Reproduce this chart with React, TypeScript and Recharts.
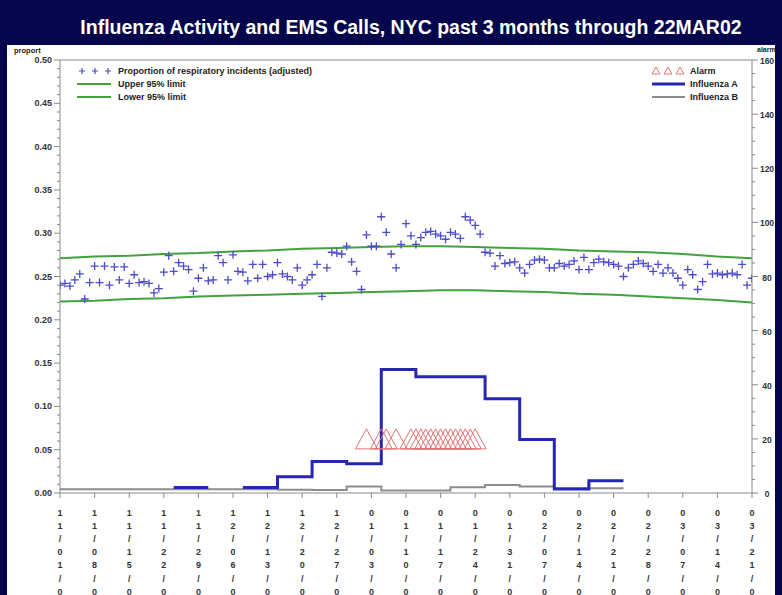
import React from 'react';
import { ComposedChart, Line, Scatter, XAxis, YAxis, ReferenceLine } from 'recharts';

// weekly x ticks (days since 11/01/01) and their labels
const tickDays = [0, 7, 14, 21, 28, 35, 42, 49, 56, 63, 70, 77, 84, 91, 98, 105, 112, 119, 126, 133, 140];
const tickDates = [
  '11/01/01', '11/08/01', '11/15/01', '11/22/01', '11/29/01', '12/06/01', '12/13/01',
  '12/20/01', '12/27/01', '01/03/02', '01/10/02', '01/17/02', '01/24/02', '01/31/02',
  '02/07/02', '02/14/02', '02/21/02', '02/28/02', '03/07/02', '03/14/02', '03/21/02',
];

const leftLabels = ['0.00', '0.05', '0.10', '0.15', '0.20', '0.25', '0.30', '0.35', '0.40', '0.45', '0.50'];
const rightLabels = ['0', '20', '40', '60', '80', '100', '120', '140', '160'];

// daily proportion of respiratory incidents (adjusted), day 0..140
const proportion = [
  0.240, 0.242, 0.239, 0.246, 0.253, 0.224, 0.243, 0.262, 0.243, 0.262,
  0.240, 0.261, 0.246, 0.261, 0.242, 0.252, 0.243, 0.244, 0.242, 0.231,
  0.236, 0.255, 0.274, 0.256, 0.266, 0.262, 0.258, 0.233, 0.248, 0.260,
  0.245, 0.246, 0.274, 0.266, 0.246, 0.275, 0.256, 0.255, 0.245, 0.264,
  0.248, 0.264, 0.250, 0.252, 0.266, 0.253, 0.250, 0.246, 0.260, 0.240,
  0.246, 0.252, 0.264, 0.227, 0.260, 0.278, 0.277, 0.276, 0.285, 0.267,
  0.256, 0.235, 0.298, 0.285, 0.285, 0.319, 0.301, 0.276, 0.260, 0.287,
  0.311, 0.297, 0.287, 0.295, 0.301, 0.302, 0.299, 0.297, 0.293, 0.301,
  0.299, 0.294, 0.319, 0.315, 0.309, 0.299, 0.278, 0.277, 0.262, 0.274,
  0.265, 0.266, 0.267, 0.260, 0.254, 0.264, 0.269, 0.270, 0.269, 0.260,
  0.260, 0.265, 0.262, 0.264, 0.268, 0.258, 0.272, 0.258, 0.266, 0.270,
  0.267, 0.266, 0.264, 0.262, 0.250, 0.260, 0.264, 0.268, 0.265, 0.262,
  0.256, 0.264, 0.254, 0.260, 0.254, 0.248, 0.240, 0.258, 0.252, 0.235,
  0.244, 0.264, 0.253, 0.254, 0.252, 0.253, 0.254, 0.252, 0.264, 0.240,
  0.248,
];

// 95% limits, read weekly
const upperLimit = [0.271, 0.273, 0.274, 0.276, 0.277, 0.279, 0.280, 0.282, 0.283, 0.284, 0.285,
  0.285, 0.284, 0.283, 0.282, 0.280, 0.279, 0.278, 0.276, 0.273, 0.271];
const lowerLimit = [0.221, 0.222, 0.224, 0.225, 0.227, 0.228, 0.229, 0.230, 0.231, 0.232, 0.233,
  0.234, 0.234, 0.233, 0.232, 0.230, 0.229, 0.227, 0.225, 0.223, 0.220];

// weekly influenza counts (right axis); a period runs to the next start
const fluPeriodStarts = [0, 9, 16, 23, 30, 37, 44, 51, 58, 65, 72, 79, 86, 93, 100, 107];
const fluLastEnd = 114;
const fluA = [null, null, null, 2, null, 2, 6, 11.6, 10.8, 45.6, 43, 43, 34.8, 19.8, 1.5, 4.5];
const fluB = [1.4, 1.4, 1.4, 1.4, 1.4, 1.4, 1.2, 1.1, 2.4, 0.9, 0.9, 2.1, 3.0, 2.4, 1.8, 1.8];

const alarmDays = [62, 65, 66, 68, 71, 72, 73, 74, 75, 76, 77, 78, 79, 80, 81, 82, 83, 84];
const alarmLevel = 20;

const FONT = '"Liberation Sans", Arial, sans-serif';
const AXIS = '#8a8a8a';
const GREEN = '#44a040';
const BLUE_A = '#2626b0';
const GRAY_B = '#8c8c8c';
const PLUS = '#4b4bcc';
const ALARM = '#e07474';

const limitRows = tickDays.map((d, i) => ({ day: d, upper: upperLimit[i], lower: lowerLimit[i] }));
const propRows = proportion.map((v, i) => ({ day: i, prop: v }));
const alarmRows = alarmDays.map((d) => ({ day: d, alarm: alarmLevel }));

function stepRows(values: (number | null)[], key: string) {
  const rows: any[] = [];
  values.forEach((v, i) => {
    const start = fluPeriodStarts[i];
    const end = i + 1 < fluPeriodStarts.length ? fluPeriodStarts[i + 1] : fluLastEnd;
    if (v == null) {
      rows.push({ day: (start + end) / 2, [key]: null });
    } else {
      rows.push({ day: start, [key]: v }, { day: end, [key]: v });
    }
  });
  return rows;
}
const fluARows = stepRows(fluA, 'fluA');
const fluBRows = stepRows(fluB, 'fluB');

const leftTicks = Array.from({ length: 51 }, (_, i) => i / 100);
const rightTicks = Array.from({ length: 33 }, (_, i) => i * 5);

const LeftTick = (props: any) => {
  const { x, y, payload } = props;
  const idx = Math.round(payload.value * 100);
  const major = idx % 5 === 0;
  return (
    <g>
      <line x1={x} x2={x - (major ? 6 : 3)} y1={y} y2={y} stroke={AXIS} />
      {major && (
        <text x={x - 8} y={y + 3} textAnchor="end" fontSize={9} fontWeight="bold" fill="#333" fontFamily={FONT}>
          {leftLabels[idx / 5]}
        </text>
      )}
    </g>
  );
};

const RightTick = (props: any) => {
  const { x, y, payload } = props;
  const v = Math.round(payload.value);
  const major = v % 20 === 0;
  return (
    <g>
      <line x1={x} x2={x + (major ? 6 : 3)} y1={y} y2={y} stroke={AXIS} />
      {major && (
        <text x={x + 15} y={y + 4} textAnchor="middle" fontSize={8.5} fontWeight="bold" fill="#333" fontFamily={FONT}>
          {rightLabels[v / 20]}
        </text>
      )}
    </g>
  );
};

const BottomTick = (props: any) => {
  const { x, y, index } = props;
  const label = tickDates[index] || '';
  return (
    <g>
      <line x1={x} x2={x} y1={y} y2={y + 5} stroke={AXIS} />
      {label.split('').map((ch, i) => (
        <text key={i} x={x} y={y + 23 + i * 13.1} textAnchor="middle" fontSize={9} fontWeight="bold" fill="#333" fontFamily={FONT}>
          {ch}
        </text>
      ))}
    </g>
  );
};

const PlusShape = (props: any) => {
  const { cx, cy } = props;
  if (cx == null || cy == null) return <g />;
  return <path d={`M${cx - 4},${cy}H${cx + 4}M${cx},${cy - 4}V${cy + 4}`} stroke={PLUS} strokeWidth={1.3} fill="none" />;
};

const TriangleShape = (props: any) => {
  const { cx, cy } = props;
  if (cx == null || cy == null) return <g />;
  return <path d={`M${cx - 11},${cy + 10}L${cx},${cy - 10}L${cx + 11},${cy + 10}Z`} stroke={ALARM} strokeWidth={1} fill="none" />;
};

const Legends = () => (
  <svg width={782} height={120} style={{ position: 'absolute', left: 0, top: 0, pointerEvents: 'none' }}>
    <g fontFamily={FONT} fontSize={9} fontWeight="bold" fill="#222">
      {[82, 95, 108].map((x) => (
        <path key={x} d={`M${x - 3},71H${x + 3}M${x},68V74`} stroke={PLUS} strokeWidth={1.2} />
      ))}
      <line x1={77} x2={111} y1={84} y2={84} stroke={GREEN} strokeWidth={2} />
      <line x1={77} x2={111} y1={97} y2={97} stroke={GREEN} strokeWidth={2} />
      <text x={118} y={74}>Proportion of respiratory incidents (adjusted)</text>
      <text x={118} y={87}>Upper 95% limit</text>
      <text x={118} y={100}>Lower 95% limit</text>

      {[656, 668, 680].map((x) => (
        <path key={x} d={`M${x - 4},74L${x},67L${x + 4},74Z`} stroke={ALARM} strokeWidth={1} fill="none" />
      ))}
      <line x1={652} x2={685} y1={84} y2={84} stroke={BLUE_A} strokeWidth={3} />
      <line x1={652} x2={685} y1={97} y2={97} stroke={GRAY_B} strokeWidth={2} />
      <text x={690} y={74}>Alarm</text>
      <text x={690} y={87}>Influenza A</text>
      <text x={690} y={100}>Influenza B</text>

      <text x={14} y={53} fontSize={7.5}>proport</text>
      <text x={757} y={52} fontSize={7}>alarm</text>
    </g>
  </svg>
);

export default function App() {
  return (
    <div style={{ position: 'fixed', left: 0, top: 0, width: 782, height: 595, background: '#06064c', overflow: 'hidden' }}>
      <div style={{ position: 'absolute', left: 7, top: 45, width: 768, height: 550, background: '#ffffff' }} />
      <svg width={782} height={45} style={{ position: 'absolute', left: 0, top: 0 }}>
        <text x={411} y={34} textAnchor="middle" fill="#ffffff" fontSize={19.5} fontWeight="bold" fontFamily={FONT}>
          Influenza Activity and EMS Calls, NYC past 3 months through 22MAR02
        </text>
      </svg>
      <div style={{ position: 'absolute', left: 0, top: 0 }}>
        <ComposedChart width={782} height={595} data={limitRows} margin={{ top: 60, right: 4, bottom: 0, left: 8 }}>
          <XAxis
            type="number"
            dataKey="day"
            domain={[0, 140]}
            ticks={tickDays}
            interval={0}
            allowDataOverflow
            height={102}
            tickSize={0}
            tickMargin={0}
            tickLine={false}
            axisLine={{ stroke: AXIS }}
            tick={(p: any) => <BottomTick {...p} />}
          />
          <YAxis
            yAxisId="left"
            type="number"
            domain={[0, 0.5]}
            ticks={leftTicks}
            interval={0}
            width={52}
            tickSize={0}
            tickMargin={0}
            tickLine={false}
            axisLine={{ stroke: AXIS }}
            tick={(p: any) => <LeftTick {...p} />}
          />
          <YAxis
            yAxisId="right"
            orientation="right"
            type="number"
            domain={[0, 160]}
            ticks={rightTicks}
            interval={0}
            width={26}
            tickSize={0}
            tickMargin={0}
            tickLine={false}
            axisLine={{ stroke: AXIS }}
            tick={(p: any) => <RightTick {...p} />}
          />
          <ReferenceLine yAxisId="left" y={0.5} stroke={AXIS} />
          <Line yAxisId="left" type="linear" dataKey="upper" stroke={GREEN} strokeWidth={2} dot={false} isAnimationActive={false} />
          <Line yAxisId="left" type="linear" dataKey="lower" stroke={GREEN} strokeWidth={2} dot={false} isAnimationActive={false} />
          <Line yAxisId="right" type="linear" data={fluBRows} dataKey="fluB" stroke={GRAY_B} strokeWidth={2} dot={false} connectNulls={false} isAnimationActive={false} />
          <Scatter yAxisId="right" data={alarmRows} dataKey="alarm" shape={TriangleShape} isAnimationActive={false} />
          <Line yAxisId="right" type="linear" data={fluARows} dataKey="fluA" stroke={BLUE_A} strokeWidth={3} dot={false} connectNulls={false} isAnimationActive={false} />
          <Scatter yAxisId="left" data={propRows} dataKey="prop" shape={PlusShape} isAnimationActive={false} />
        </ComposedChart>
      </div>
      <Legends />
    </div>
  );
}
